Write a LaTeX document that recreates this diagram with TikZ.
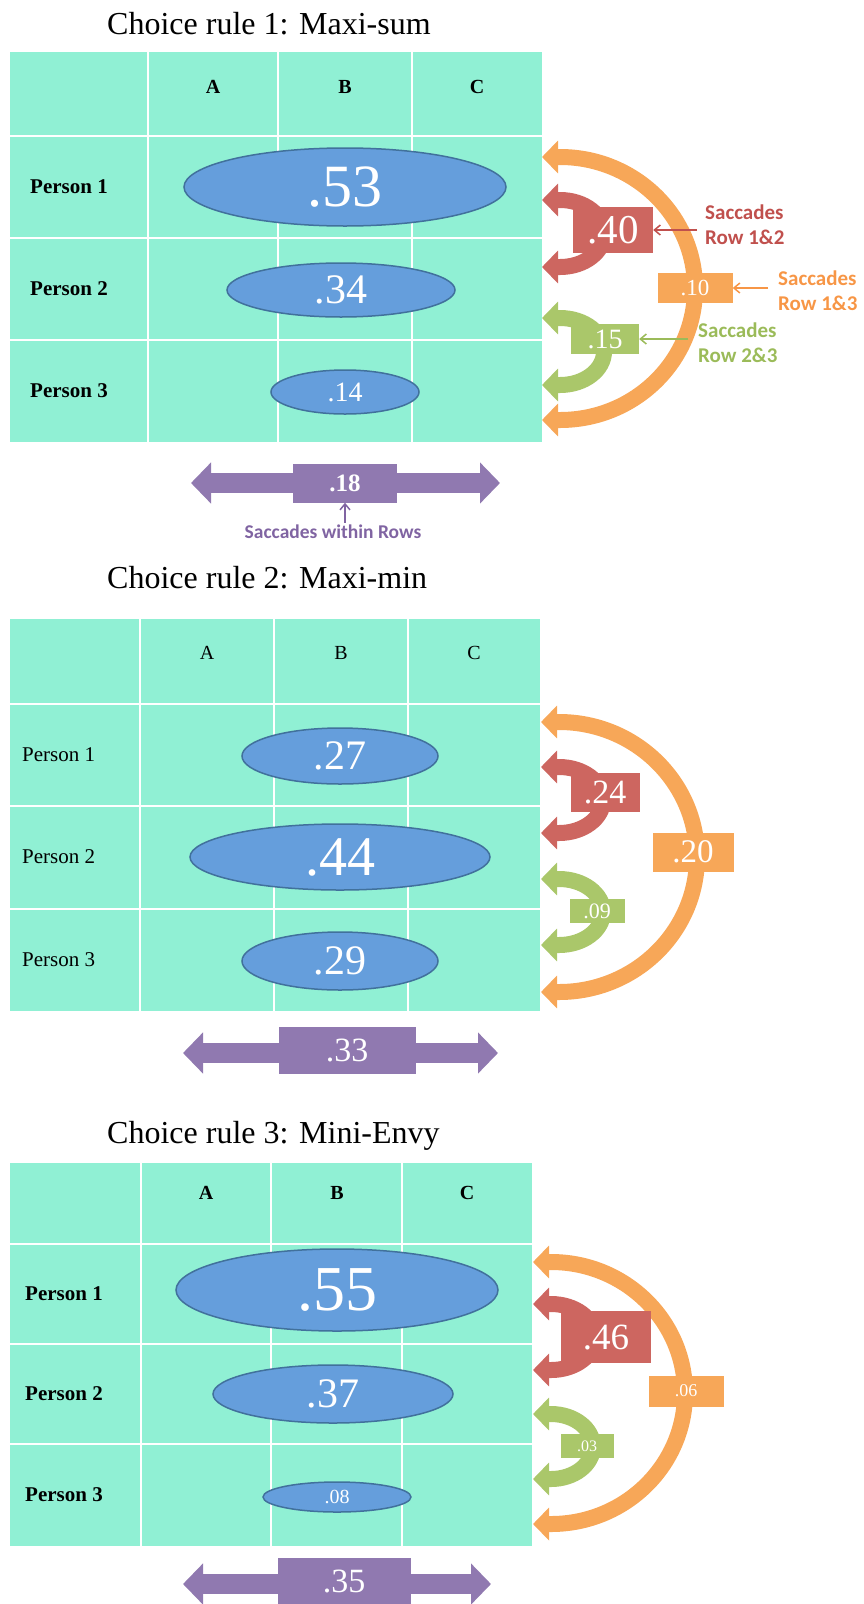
\documentclass[tikz,border=0pt]{standalone}
\usepackage{fontspec}
\setmainfont{Liberation Serif}
\newfontfamily\labfont{Carlito}
\usepackage{xcolor}
\usetikzlibrary{arrows.meta,shapes.geometric}
\definecolor{mint}{RGB}{144,240,212}
\definecolor{cellblue}{RGB}{101,158,220}
\definecolor{celledge}{RGB}{65,113,156}
\definecolor{orng}{RGB}{247,167,88}
\definecolor{redd}{RGB}{205,102,96}
\definecolor{grn}{RGB}{170,199,106}
\definecolor{purp}{RGB}{144,121,176}
\definecolor{redtxt}{RGB}{192,80,77}
\definecolor{orgtxt}{RGB}{247,150,70}
\definecolor{grntxt}{RGB}{155,187,89}
\definecolor{purtxt}{RGB}{128,100,162}
\newcommand{\fsz}[1]{\fontsize{#1}{#1}\selectfont}

\begin{document}
\begin{tikzpicture}[x=1pt, y=-1pt,
  gridln/.style={white, line width=2.5pt},
  cellell/.style={ellipse, draw=celledge, line width=1.5pt, fill=cellblue, text=white, inner sep=0pt},
  valbox/.style={fill=#1, text=white, inner sep=0pt},
  bigarc/.style={#1, line width=16pt, {Triangle[length=16pt,width=32pt]}-{Triangle[length=16pt,width=32pt]}},
  rowarr/.style={purp, line width=20pt, {Triangle[length=20pt,width=40pt]}-{Triangle[length=20pt,width=40pt]}},
  saclab/.style={text=#1, font=\labfont\bfseries\fontsize{21}{25}\selectfont, align=left, anchor=west, inner sep=0pt},
  thinarr/.style={#1, line width=1.5pt, -{Straight Barb[length=6pt,width=10pt]}},
  ruletitle/.style={anchor=base west, inner sep=0pt, font=\fsz{32}}]
\useasboundingbox (0,0) rectangle (864,1604);

% Choice rule 1
\node[ruletitle] (t1) at (107,34) {Choice rule 1: Maxi-sum};
\fill[mint] (10,52) rectangle (542,442);
\foreach \c in {148,278,412} \draw[gridln] (\c,52) -- (\c,442);
\foreach \r in {136,238,340} \draw[gridln] (10,\r) -- (542,\r);
\foreach \lab/\c in {A/213,B/345,C/477}
  \node[font=\bfseries\fsz{20}] (h1\lab) at (\c,87) {\lab};
\foreach \i/\r in {1/187,2/289,3/391}
  \node[anchor=west, inner sep=0pt, font=\bfseries\fsz{21}] (p1\i) at (30,\r) {Person \i};
\node[cellell, minimum width=322pt, minimum height=78pt, font=\fsz{60}] (e53) at (345,187) {.53};
\node[cellell, minimum width=228pt, minimum height=54pt, font=\fsz{42}] (e34) at (341,290) {.34};
\node[cellell, minimum width=148pt, minimum height=44pt, font=\fsz{28}] (e14) at (345,392) {.14};
\foreach \nm/\col/\tx/\ya/\yb/\rx in {o1/orng/542/157/420/135, r1/redd/542/200/267/44, g1/grn/542/318/385/44} {
  \coordinate (\nm t) at (\tx,\ya);
  \coordinate (\nm b) at (\tx,\yb);
  \pgfmathsetmacro\ry{(\yb-\ya)/2}
  \draw[bigarc=\col] (\nm t) -- ++(18,0) arc[start angle=-90, end angle=90, x radius=\rx, y radius=\ry] -- (\nm b);
}
\node[valbox=redd, minimum width=80pt, minimum height=46pt, font=\fsz{41}] (v40) at (613,230) {.40};
\node[valbox=orng, minimum width=75pt, minimum height=30pt, font=\fsz{23}] (v10) at (695,288) {.10};
\node[valbox=grn, minimum width=68pt, minimum height=30pt, font=\fsz{28}] (v15) at (605,339) {.15};
\node[saclab=redtxt] (l12) at (705,225) {Saccades\\Row 1\&2};
\node[saclab=orgtxt] (l13) at (778,291) {Saccades\\Row 1\&3};
\node[saclab=grntxt] (l23) at (698,343) {Saccades\\Row 2\&3};
\draw[thinarr=redtxt, shorten <=8pt] (l12.west |- v40.east) -- (v40.east);
\draw[thinarr=orgtxt, shorten <=10pt] (l13.west |- v10.east) -- (v10.east);
\draw[thinarr=grntxt, shorten <=10pt] (l23.west |- v15.east) -- (v15.east);
\coordinate (w1l) at (191,483);
\coordinate (w1r) at (500,483);
\draw[rowarr] (w1l) -- (w1r);
\node[valbox=purp, minimum width=104pt, minimum height=39pt, font=\bfseries\fsz{25}] (v18) at (345,483) {.18};
\node[text=purtxt, inner sep=0pt, font=\labfont\bfseries\fsz{19.5}] (lw) at (333,532) {Saccades within Rows};
\draw[thinarr=purtxt, shorten <=2pt] (v18.south |- lw.north) -- (v18.south);

% Choice rule 2
\node[ruletitle] (t2) at (107,588) {Choice rule 2: Maxi-min};
\fill[mint] (10,619) rectangle (540,1011);
\foreach \c in {140,274,408} \draw[gridln] (\c,619) -- (\c,1011);
\foreach \r in {704,806,909} \draw[gridln] (10,\r) -- (540,\r);
\foreach \lab/\c in {A/207,B/341,C/474}
  \node[font=\fsz{20}] (h2\lab) at (\c,653) {\lab};
\foreach \i/\r in {1/755,2/857,3/960}
  \node[anchor=west, inner sep=0pt, font=\fsz{21}] (p2\i) at (22,\r) {Person \i};
\node[cellell, minimum width=196pt, minimum height=56pt, font=\fsz{42}] (e27) at (340,756) {.27};
\node[cellell, minimum width=300pt, minimum height=66pt, font=\fsz{56}] (e44) at (340,857) {.44};
\node[cellell, minimum width=196pt, minimum height=58pt, font=\fsz{42}] (e29) at (340,961) {.29};
\foreach \nm/\col/\tx/\ya/\yb/\rx in {o2/orng/541/722/992/138, r2/redd/541/767/833/44, g2/grn/541/879/945/44} {
  \coordinate (\nm t) at (\tx,\ya);
  \coordinate (\nm b) at (\tx,\yb);
  \pgfmathsetmacro\ry{(\yb-\ya)/2}
  \draw[bigarc=\col] (\nm t) -- ++(18,0) arc[start angle=-90, end angle=90, x radius=\rx, y radius=\ry] -- (\nm b);
}
\node[valbox=redd, minimum width=69pt, minimum height=39pt, font=\fsz{34}] (v24) at (605,792) {.24};
\node[valbox=orng, minimum width=81pt, minimum height=39pt, font=\fsz{33}] (v20) at (693,852) {.20};
\node[valbox=grn, minimum width=55pt, minimum height=24pt, font=\fsz{22}] (v09) at (597,911) {.09};
\coordinate (w2l) at (183,1053);
\coordinate (w2r) at (498,1053);
\draw[rowarr] (w2l) -- (w2r);
\node[valbox=purp, minimum width=137pt, minimum height=47pt, font=\fsz{34}] (v33) at (347,1050) {.33};

% Choice rule 3
\node[ruletitle] (t3) at (107,1143) {Choice rule 3: Mini-Envy};
\fill[mint] (10,1163) rectangle (532,1546);
\foreach \c in {141,271,402} \draw[gridln] (\c,1163) -- (\c,1546);
\foreach \r in {1244,1344,1444} \draw[gridln] (10,\r) -- (532,\r);
\foreach \lab/\c in {A/206,B/337,C/467}
  \node[font=\bfseries\fsz{20}] (h3\lab) at (\c,1193) {\lab};
\foreach \i/\r in {1/1294,2/1394,3/1495}
  \node[anchor=west, inner sep=0pt, font=\bfseries\fsz{21}] (p3\i) at (25,\r) {Person \i};
\node[cellell, minimum width=322pt, minimum height=82pt, font=\fsz{64}] (e55) at (337,1290) {.55};
\node[cellell, minimum width=240pt, minimum height=58pt, font=\fsz{42}] (e37) at (333,1394) {.37};
\node[cellell, minimum width=148pt, minimum height=30pt, font=\fsz{20}] (e08) at (337,1497) {.08};
\foreach \nm/\col/\tx/\ya/\yb/\rx in {o3/orng/533/1262/1524/134, r3/redd/533/1304/1370/44, g3/grn/533/1414/1479/42} {
  \coordinate (\nm t) at (\tx,\ya);
  \coordinate (\nm b) at (\tx,\yb);
  \pgfmathsetmacro\ry{(\yb-\ya)/2}
  \draw[bigarc=\col] (\nm t) -- ++(18,0) arc[start angle=-90, end angle=90, x radius=\rx, y radius=\ry] -- (\nm b);
}
\node[valbox=redd, minimum width=90pt, minimum height=52pt, font=\fsz{37}] (v46) at (606,1337) {.46};
\node[valbox=orng, minimum width=75pt, minimum height=31pt, font=\fsz{18}] (v06) at (686,1391) {.06};
\node[valbox=grn, minimum width=53pt, minimum height=24pt, font=\fsz{16}] (v03) at (587,1446) {.03};
\coordinate (w3l) at (183,1584);
\coordinate (w3r) at (491,1584);
\draw[rowarr] (w3l) -- (w3r);
\node[valbox=purp, minimum width=133pt, minimum height=47pt, font=\fsz{34}] (v35) at (344,1581) {.35};
\end{tikzpicture}
\end{document}
